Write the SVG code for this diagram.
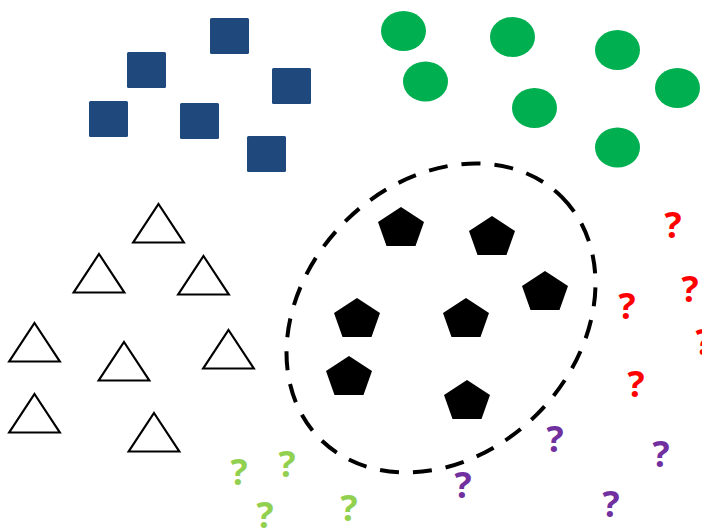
<svg xmlns="http://www.w3.org/2000/svg" xmlns:xlink="http://www.w3.org/1999/xlink" width="702" height="529" viewBox="0 0 702 529">
<style>
.sq{fill:#1F497D}
.ci{fill:#00B050}
.tri{fill:#fff;stroke:#000;stroke-width:2.2;stroke-linejoin:miter}
.pen{fill:#000}
.q{font-family:"Open Sans","Liberation Sans",sans-serif;font-weight:700;font-size:36px;text-anchor:middle}
.qr{fill:#FF0000}
.qg{fill:#92D050}
.qp{fill:#7030A0}
</style>
<defs>
<rect id="sqr" x="0" y="0" width="39" height="36" rx="1.5"/>
<polygon id="tr" points="0,0 25.3,38.5 -25.3,38.5"/>
<polygon id="pt" points="0,0 23,15 14.5,39 -14.5,39 -23,15"/>
</defs>
<rect width="702" height="529" fill="#fff"/>
<g id="cluster">
<ellipse cx="441" cy="318" rx="171" ry="136" transform="rotate(-45 441 318)" fill="none" stroke="#000" stroke-width="4" stroke-dasharray="19 14"/>
</g>
<g id="squares">
<use id="sq1" href="#sqr" xlink:href="#sqr" class="sq" x="210" y="18"/>
<use id="sq2" href="#sqr" xlink:href="#sqr" class="sq" x="127" y="52"/>
<use id="sq3" href="#sqr" xlink:href="#sqr" class="sq" x="272" y="68"/>
<use id="sq4" href="#sqr" xlink:href="#sqr" class="sq" x="89" y="101"/>
<use id="sq5" href="#sqr" xlink:href="#sqr" class="sq" x="180" y="103"/>
<use id="sq6" href="#sqr" xlink:href="#sqr" class="sq" x="247" y="136"/>
</g>
<g id="circles">
<ellipse id="ci1" class="ci" cx="403.5" cy="31" rx="22.5" ry="20"/>
<ellipse id="ci2" class="ci" cx="512.5" cy="37" rx="22.5" ry="20"/>
<ellipse id="ci3" class="ci" cx="617.5" cy="50" rx="22.5" ry="20"/>
<ellipse id="ci4" class="ci" cx="425.5" cy="81.5" rx="22.5" ry="20"/>
<ellipse id="ci5" class="ci" cx="534.5" cy="108" rx="22.5" ry="20"/>
<ellipse id="ci6" class="ci" cx="677.5" cy="88" rx="22.5" ry="20"/>
<ellipse id="ci7" class="ci" cx="617.5" cy="147.5" rx="22.5" ry="20"/>
</g>
<g id="triangles">
<use id="tr1" href="#tr" xlink:href="#tr" class="tri" x="158.5" y="204"/>
<use id="tr2" href="#tr" xlink:href="#tr" class="tri" x="99" y="254"/>
<use id="tr3" href="#tr" xlink:href="#tr" class="tri" x="203.5" y="256"/>
<use id="tr4" href="#tr" xlink:href="#tr" class="tri" x="34.5" y="323"/>
<use id="tr5" href="#tr" xlink:href="#tr" class="tri" x="124" y="342"/>
<use id="tr6" href="#tr" xlink:href="#tr" class="tri" x="228.5" y="330"/>
<use id="tr7" href="#tr" xlink:href="#tr" class="tri" x="34.5" y="394"/>
<use id="tr8" href="#tr" xlink:href="#tr" class="tri" x="154" y="413"/>
</g>
<g id="pentagons">
<use id="pt1" href="#pt" xlink:href="#pt" class="pen" x="401" y="207"/>
<use id="pt2" href="#pt" xlink:href="#pt" class="pen" x="492" y="216"/>
<use id="pt3" href="#pt" xlink:href="#pt" class="pen" x="545" y="271"/>
<use id="pt4" href="#pt" xlink:href="#pt" class="pen" x="357" y="298"/>
<use id="pt5" href="#pt" xlink:href="#pt" class="pen" x="466" y="298"/>
<use id="pt6" href="#pt" xlink:href="#pt" class="pen" x="349" y="356"/>
<use id="pt7" href="#pt" xlink:href="#pt" class="pen" x="467" y="380"/>
</g>
<g id="red-questions">
<text class="q qr" x="673" y="238">?</text>
<text class="q qr" x="690" y="302">?</text>
<text class="q qr" x="627" y="319">?</text>
<text class="q qr" x="704" y="355">?</text>
<text class="q qr" x="636" y="397">?</text>
</g>
<g id="green-questions">
<text class="q qg" x="239" y="485">?</text>
<text class="q qg" x="287" y="477">?</text>
<text class="q qg" x="265" y="528">?</text>
<text class="q qg" x="349" y="521">?</text>
</g>
<g id="purple-questions">
<text class="q qp" x="555" y="452">?</text>
<text class="q qp" x="661" y="467">?</text>
<text class="q qp" x="463" y="498">?</text>
<text class="q qp" x="611" y="517">?</text>
</g>
</svg>
